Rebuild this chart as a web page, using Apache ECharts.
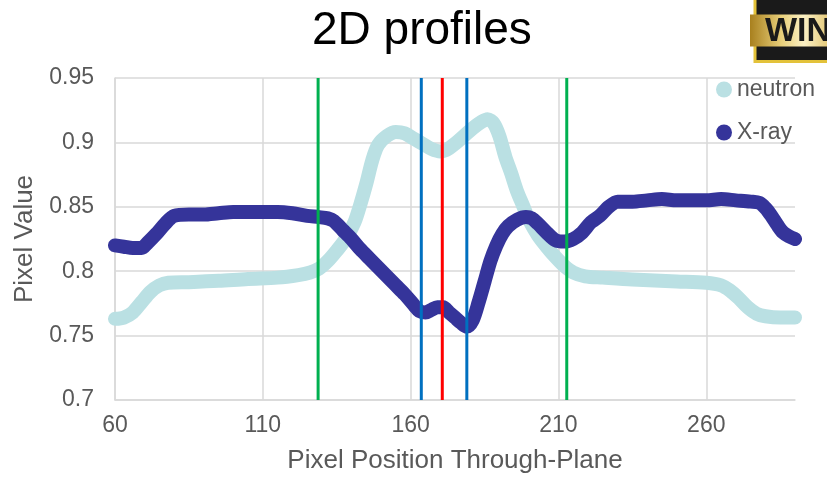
<!DOCTYPE html>
<html>
<head>
<meta charset="utf-8">
<script src="https://cdn.jsdelivr.net/npm/echarts@6/dist/echarts.min.js"></script>
<style>
html,body{margin:0;padding:0;background:#fff;}
#chart{width:827px;height:483px;}
</style>
</head>
<body>
<div id="chart"></div>
<script>
// ---- data ----
const neutronX = [60,63,66,69,72,75,78,85,95,105,115,122,126,129,132,135,138,141,143,145,147,149,152,155,158,161,164,167,170,172,175,178,181,184,186,188,190,192,194,196,198,200,203,206,209,212,215,219,225,235,250,260,265,268,271,274,277,280,285,290];
const neutronY = [0.763,0.764,0.768,0.776,0.784,0.789,0.791,0.7915,0.7925,0.794,0.795,0.797,0.799,0.802,0.808,0.816,0.825,0.838,0.852,0.868,0.886,0.898,0.905,0.908,0.907,0.903,0.899,0.895,0.893,0.894,0.899,0.905,0.911,0.916,0.918,0.915,0.905,0.889,0.876,0.862,0.851,0.840,0.828,0.819,0.811,0.804,0.799,0.796,0.795,0.7935,0.792,0.791,0.789,0.785,0.779,0.772,0.767,0.765,0.764,0.764];

const xrayX = [60,63,66,69,71,74,77,80,85,90,95,100,105,110,115,120,125,129,132,134,137,140,143,146,149,152,155,158,161,163,165,167,169,171,173,175,177,179,181,183,185,187,189,191,193,196,199,201,203,206,209,212,215,218,221,224,227,230,235,240,245,250,255,260,265,270,275,278,280,282,284,286,288,290];
const xrayY = [0.820,0.819,0.818,0.818,0.822,0.829,0.837,0.843,0.844,0.844,0.845,0.846,0.846,0.846,0.846,0.845,0.843,0.842,0.841,0.839,0.832,0.825,0.817,0.810,0.803,0.796,0.789,0.782,0.774,0.769,0.768,0.770,0.772,0.772,0.768,0.764,0.760,0.757,0.762,0.776,0.792,0.808,0.820,0.829,0.835,0.840,0.842,0.841,0.837,0.830,0.824,0.823,0.825,0.830,0.838,0.843,0.850,0.854,0.854,0.855,0.856,0.855,0.855,0.855,0.856,0.855,0.854,0.853,0.849,0.843,0.836,0.830,0.827,0.825];

const markerX = [128.7, 163.6, 170.7, 179.0, 212.8];
const markerColors = ['#00B050', '#0070C0', '#FF0000', '#0070C0', '#00B050'];

const xTicks = [60, 110, 160, 210, 260];
const yTicks = [0.7, 0.75, 0.8, 0.85, 0.9, 0.95];

const seriesNames = ['neutron', 'X-ray'];
const seriesColors = ['#BAE0E3', '#35349A'];

// ---- chart ----
const chart = echarts.init(document.getElementById('chart'), null, {renderer: 'canvas'});
const zip = (xs, ys) => xs.map((x, i) => [x, ys[i]]);
const FONT = 'Liberation Sans, Arial, sans-serif';
const TXT = '#595959';

const lineSeries = [zip(neutronX, neutronY), zip(xrayX, xrayY)].map((d, i) => ({
  name: seriesNames[i],
  type: 'line',
  data: d,
  smooth: 0.3,
  showSymbol: false,
  symbol: 'circle',
  itemStyle: {color: seriesColors[i]},
  lineStyle: {color: seriesColors[i], width: 14, cap: 'round', join: 'round'},
  z: 2 + i,
  animation: false
}));

const markerSeries = markerX.map((x, i) => ({
  name: 'm' + i,
  type: 'line',
  data: [[x, yTicks[0]], [x, yTicks[yTicks.length - 1]]],
  showSymbol: false,
  lineStyle: {color: markerColors[i], width: 3},
  z: 5,
  silent: true,
  animation: false
}));

chart.setOption({
  animation: false,
  backgroundColor: '#ffffff',
  title: {
    text: '2D profiles',
    left: 307,
    top: 3,
    textStyle: {fontFamily: FONT, fontSize: 46, fontWeight: 'normal', color: '#000000'}
  },
  legend: {
    data: seriesNames,
    orient: 'vertical',
    left: 711,
    top: 73,
    icon: 'circle',
    itemWidth: 16,
    itemHeight: 16,
    itemGap: 20,
    itemTextGap: 4,
    textStyle: {fontFamily: FONT, fontSize: 23, color: TXT, lineHeight: 23}
  },
  grid: {left: 115, right: 32, top: 78, bottom: 83, containLabel: false},
  xAxis: {
    type: 'value',
    min: xTicks[0],
    max: 290,
    interval: 50,
    name: 'Pixel Position Through-Plane',
    nameLocation: 'middle',
    nameGap: 48,
    nameTextStyle: {fontFamily: FONT, fontSize: 26, color: TXT},
    axisLine: {show: true, lineStyle: {color: '#D9D9D9', width: 1.5}},
    axisTick: {show: false},
    axisLabel: {
      fontFamily: FONT, fontSize: 23, color: TXT, margin: 14,
      showMaxLabel: false,
      formatter: v => (xTicks.indexOf(v) >= 0 ? String(v) : '')
    },
    splitLine: {show: true, showMaxLine: false, lineStyle: {color: '#D9D9D9', width: 1.5}}
  },
  yAxis: {
    type: 'value',
    min: yTicks[0],
    max: yTicks[yTicks.length - 1],
    interval: 0.05,
    name: 'Pixel Value',
    nameLocation: 'middle',
    nameGap: 77,
    nameTextStyle: {fontFamily: FONT, fontSize: 26, color: TXT},
    axisLine: {show: true, lineStyle: {color: '#D9D9D9', width: 1.5}},
    axisTick: {show: false},
    axisLabel: {fontFamily: FONT, fontSize: 23, color: TXT, margin: 21},
    splitLine: {show: true, lineStyle: {color: '#D9D9D9', width: 1.5}}
  },
  series: lineSeries.concat(markerSeries),
  graphic: [
    {
      type: 'group',
      left: 750,
      top: -4,
      children: [
        {type: 'rect', shape: {x: 5, y: 0, width: 90, height: 64},
         style: {fill: '#1a1a1a', stroke: '#E3C23A', lineWidth: 3}},
        {type: 'rect', shape: {x: 0, y: 17, width: 90, height: 32},
         style: {fill: new echarts.graphic.LinearGradient(0, 0, 1, 0, [
           {offset: 0, color: '#A8801E'},
           {offset: 0.35, color: '#E8CF7A'},
           {offset: 0.6, color: '#FBF0C4'},
           {offset: 1, color: '#D8B656'}
         ])}},
        {type: 'text', x: 15, y: 34,
         style: {text: 'WIN', font: 'bold 34px Liberation Sans, Arial, sans-serif',
                 fill: '#1a1a1a', textVerticalAlign: 'middle'}}
      ]
    }
  ]
});
</script>
</body>
</html>
